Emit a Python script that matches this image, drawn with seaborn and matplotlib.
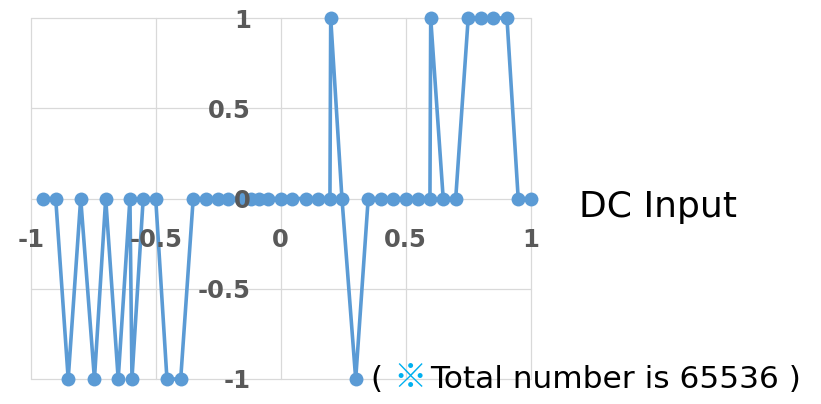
import matplotlib
matplotlib.use("Agg")
import matplotlib.pyplot as plt
import seaborn as sns
import pandas as pd

# Sampled output levels versus DC input
dc_input = [-0.95, -0.90, -0.85, -0.80, -0.745, -0.70, -0.65, -0.603, -0.595,
            -0.55, -0.50, -0.455, -0.40, -0.35, -0.30, -0.25, -0.21, -0.16,
            -0.12, -0.085, -0.05, 0.0, 0.045, 0.10, 0.15, 0.197, 0.20, 0.245,
            0.30, 0.35, 0.40, 0.45, 0.50, 0.55, 0.597, 0.60, 0.65, 0.70, 0.75,
            0.80, 0.85, 0.905, 0.95, 1.0]
output = [0, 0, -1, 0, -1, 0, -1, 0, -1,
          0, 0, -1, -1, 0, 0, 0, 0, 0,
          0, 0, 0, 0, 0, 0, 0, 0, 1, 0,
          -1, 0, 0, 0, 0, 0, 0, 1, 0, 0, 1,
          1, 1, 1, 0, 0]

tick_values = [-1, -0.5, 0, 0.5, 1]
tick_labels = ["-1", "-0.5", "0", "0.5", "1"]

axis_title = "DC Input"
note_open = "("
note_mark = "\u203b"
note_text = "Total number is 65536 )"

df = pd.DataFrame({"dc_input": dc_input, "output": output})

sns.set_theme(style="white")
plt.rcParams["font.family"] = ["DejaVu Sans"]

fig = plt.figure(figsize=(8.21, 4.04), dpi=100)
ax = fig.add_axes([30.7 / 821, 25 / 404, 500 / 821, 361 / 404])

# Light gridlines underneath everything
for v in tick_values:
    ax.axhline(v, color="#D9D9D9", linewidth=0.9, zorder=0.5, clip_on=False)
    ax.axvline(v, color="#D9D9D9", linewidth=0.9, zorder=0.5, clip_on=False)

blue = "#5B9BD5"
sns.lineplot(data=df, x="dc_input", y="output", ax=ax, estimator=None,
             sort=False, color=blue, linewidth=2.6, marker="o",
             markersize=10, markeredgewidth=0, clip_on=False, zorder=2)

ax.set_xlim(-1, 1)
ax.set_ylim(-1, 1)
ax.set_xticks(tick_values)
ax.set_yticks(tick_values)
ax.set_xticklabels(tick_labels)
ax.set_yticklabels(tick_labels)
ax.set_xlabel("")
ax.set_ylabel("")

# Axes cross at the origin; labels sit beside the crossing lines
ax.spines["left"].set_position(("data", 0))
ax.spines["bottom"].set_position(("data", 0))
for side in ["left", "bottom", "right", "top"]:
    ax.spines[side].set_color("none")

ax.grid(False)
ax.set_axisbelow(False)  # tick labels drawn above the series
ax.tick_params(axis="both", length=0, pad=21.5, labelsize=17.5,
               labelcolor="#595959")
for lab in ax.get_xticklabels() + ax.get_yticklabels():
    lab.set_fontweight("bold")

fig.text(579 / 821, (404 - 216.5) / 404, axis_title, fontsize=26,
         color="black", ha="left", va="baseline")

base_y = (404 - 388) / 404
fig.text(370 / 821, base_y, note_open, fontsize=22.5, color="black",
         ha="left", va="baseline")
fig.text(393 / 821, base_y, note_mark, fontsize=24, color="#00B0F0",
         ha="left", va="baseline", family=["Noto Sans CJK JP", "DejaVu Sans"])
fig.text(430 / 821, base_y, note_text, fontsize=22.5, color="black",
         ha="left", va="baseline")

fig.savefig("out.png", dpi=100)
